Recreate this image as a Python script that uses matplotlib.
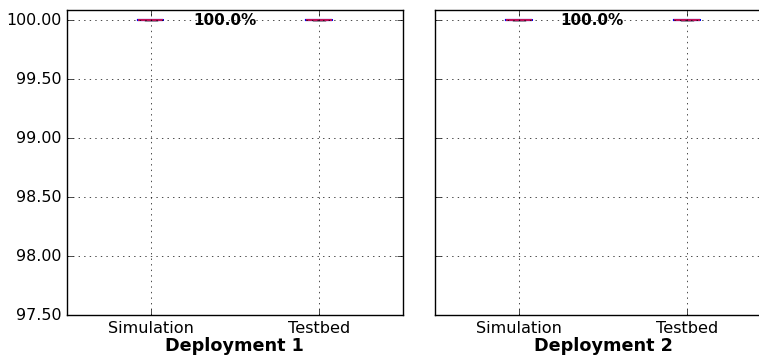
import matplotlib
matplotlib.use("Agg")
import matplotlib.pyplot as plt
from matplotlib.ticker import FormatStrFormatter

plt.style.use('classic')
plt.rcParams['font.family'] = ['DejaVu Sans']

# success ratio per run (all runs hit 100%)
deployments = ['Deployment 1', 'Deployment 2']
labels = ['Simulation', 'Testbed']
sim_values = [[100.0, 100.0, 100.0, 100.0, 100.0], [100.0, 100.0, 100.0, 100.0, 100.0]]
testbed_values = [[100.0, 100.0, 100.0, 100.0, 100.0], [100.0, 100.0, 100.0, 100.0, 100.0]]
mean_text = ['100.0%', '100.0%']
text_x = [1.44, 1.435]

fig, axes = plt.subplots(1, 2, figsize=(7.59, 3.61), dpi=100, sharey=True)
fig.patch.set_facecolor('white')
plt.subplots_adjust(left=0.088, right=1.016, top=0.973, bottom=0.127, wspace=0.095)

for i, ax in enumerate(axes):
    ax.boxplot([sim_values[i], testbed_values[i]],
               boxprops=dict(color='b', linewidth=1.5),
               medianprops=dict(color='#c0105a', linewidth=1.5))
    ax.set_xticklabels(labels, fontsize=11.6)
    ax.set_xlabel(deployments[i], fontsize=12.7, fontweight='bold', labelpad=1)
    ax.set_ylim(97.5, 100.09)
    ax.set_yticks([97.5, 98.0, 98.5, 99.0, 99.5, 100.0])
    ax.yaxis.set_major_formatter(FormatStrFormatter('%.2f'))
    ax.grid(True)
    ax.text(text_x[i], 100.0, mean_text[i], ha='center', va='center', fontsize=11, fontweight='bold')
    ax.tick_params(axis='y', labelsize=11.4)

axes[1].tick_params(labelleft=False)

fig.savefig('out.png', dpi=100, facecolor='white')
